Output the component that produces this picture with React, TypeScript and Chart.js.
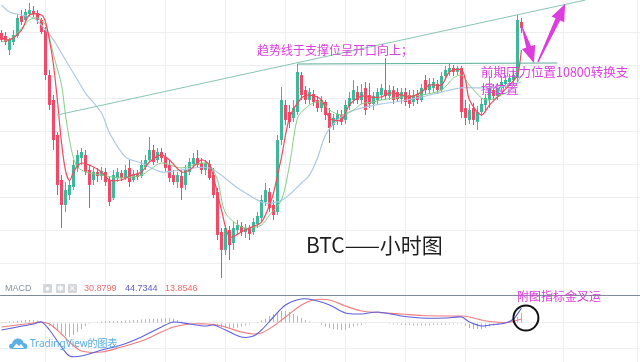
import React, { useEffect, useRef } from "react";
import { Chart, registerables } from "chart.js";

Chart.register(...registerables);

// ---------- candle data (hourly BTC) ----------
const openPrices = [
  10994, 10976, 10891, 10939, 10976, 11097, 11073, 11109, 11127, 11115,
  11073, 11012, 10739, 10588, 10376, 10103, 9952, 10012, 10061, 10176,
  10236, 10255, 10164, 10103, 10152, 10127, 10152, 10103, 9994, 10115,
  10145, 10115, 10176, 10103, 10139, 10127, 10182, 10224, 10285, 10224,
  10273, 10242, 10194, 10133, 10091, 10127, 10073, 10152, 10200, 10236,
  10206, 10164, 10200, 10133, 10030, 9788, 9679, 9800, 9721, 9800,
  9824, 9788, 9812, 9788, 9836, 9873, 9970, 10030, 9952, 9909,
  10345, 10558, 10515, 10479, 10515, 10739, 10648, 10588, 10624, 10588,
  10539, 10576, 10509, 10436, 10467, 10497, 10467, 10552, 10588, 10636,
  10588, 10661, 10618, 10564, 10588, 10618, 10648, 10612, 10648, 10636,
  10594, 10636, 10618, 10576, 10624, 10588, 10709, 10648, 10661, 10685,
  10648, 10733, 10758, 10782, 10758, 10782, 10539, 10467, 10539, 10455,
  10515, 10558, 10588, 10648, 10612, 10661, 10685, 10697, 10709, 10721,
  11061,
];
const highPrices = [
  11012, 11000, 10964, 11012, 11109, 11133, 11139, 11176, 11158, 11133,
  11085, 11030, 10770, 10618, 10394, 10133, 10091, 10103, 10224, 10285,
  10297, 10285, 10194, 10176, 10176, 10182, 10176, 10127, 10164, 10176,
  10164, 10194, 10224, 10164, 10164, 10224, 10255, 10364, 10315, 10297,
  10297, 10267, 10224, 10164, 10152, 10164, 10194, 10236, 10267, 10285,
  10236, 10224, 10224, 10176, 10055, 9812, 9830, 9824, 9848, 9861,
  9848, 9836, 9830, 9873, 9909, 10012, 10085, 10055, 9982, 10376,
  10667, 10588, 10558, 10588, 10806, 10758, 10673, 10661, 10648, 10612,
  10612, 10588, 10539, 10503, 10527, 10527, 10588, 10636, 10709, 10673,
  10685, 10697, 10691, 10636, 10661, 10685, 10842, 10679, 10673, 10661,
  10661, 10661, 10648, 10648, 10648, 10685, 10739, 10721, 10721, 10709,
  10758, 10794, 10812, 10800, 10794, 10794, 10588, 10564, 10570, 10552,
  10600, 10624, 10733, 10685, 10685, 10733, 10739, 10745, 10770, 11103,
  11085,
];
const lowPrices = [
  10939, 10921, 10861, 10921, 10964, 11042, 11061, 11097, 11091, 11048,
  10988, 10709, 10527, 10285, 10012, 9812, 9909, 9982, 10042, 10152,
  10194, 10133, 9933, 10073, 10091, 10103, 10067, 9945, 9982, 10091,
  10097, 10103, 10061, 10091, 10103, 10115, 10164, 10212, 10194, 10206,
  10212, 10152, 10091, 10073, 10055, 9982, 10042, 10133, 10176, 10176,
  10139, 10133, 10103, 9994, 9739, 9509, 9648, 9618, 9679, 9770,
  9764, 9752, 9739, 9770, 9812, 9848, 9945, 9909, 9861, 9891,
  10315, 10436, 10418, 10455, 10497, 10588, 10564, 10564, 10552, 10515,
  10515, 10467, 10327, 10406, 10436, 10436, 10442, 10527, 10564, 10564,
  10564, 10497, 10539, 10527, 10564, 10588, 10588, 10588, 10564, 10576,
  10564, 10552, 10539, 10552, 10564, 10576, 10618, 10624, 10636, 10624,
  10636, 10709, 10733, 10733, 10739, 10479, 10436, 10442, 10436, 10406,
  10491, 10527, 10539, 10588, 10588, 10636, 10661, 10673, 10685, 10697,
  10994,
];
const closePrices = [
  10952, 10939, 10952, 10982, 11085, 11061, 11121, 11133, 11109, 11073,
  11000, 10739, 10558, 10345, 10073, 9952, 10042, 10073, 10194, 10255,
  10273, 10152, 10073, 10152, 10127, 10158, 10091, 9970, 10133, 10152,
  10115, 10164, 10091, 10139, 10121, 10194, 10224, 10285, 10212, 10273,
  10236, 10176, 10115, 10091, 10133, 10055, 10164, 10212, 10236, 10194,
  10164, 10206, 10115, 10012, 9770, 9679, 9812, 9709, 9812, 9830,
  9788, 9812, 9776, 9848, 9885, 9982, 10042, 9933, 9891, 10345,
  10588, 10467, 10455, 10539, 10758, 10618, 10588, 10636, 10576, 10539,
  10588, 10497, 10418, 10479, 10503, 10455, 10558, 10600, 10648, 10588,
  10636, 10527, 10564, 10612, 10636, 10661, 10612, 10648, 10588, 10594,
  10636, 10576, 10564, 10618, 10588, 10661, 10648, 10685, 10697, 10648,
  10733, 10770, 10782, 10758, 10782, 10515, 10479, 10527, 10467, 10515,
  10564, 10600, 10661, 10612, 10661, 10697, 10709, 10721, 10739, 11073,
  11024,
];

// ---------- moving averages (candle index, price) ----------
const fastMaIdx = [0, 2, 5, 7, 10, 11, 12, 13, 14, 15, 16, 17, 18, 19, 20, 22, 25, 27, 30, 32, 35, 37, 40, 42, 45, 47, 50, 52, 53, 55, 57, 60, 62, 65, 67, 68, 70, 72, 75, 77, 80, 82, 85, 87, 90, 92, 95, 97, 100, 102, 105, 107, 110, 112, 115, 116, 117, 120, 122, 125, 127, 129, 130];
const fastMaVal = [10964, 10952, 11012, 11103, 11103, 11061, 10950, 10800, 10580, 10330, 10160, 10100, 10152, 10188, 10206, 10194, 10152, 10103, 10103, 10127, 10152, 10212, 10255, 10224, 10152, 10164, 10224, 10194, 10121, 9921, 9758, 9788, 9812, 9848, 9952, 10024, 10242, 10479, 10600, 10618, 10588, 10479, 10467, 10558, 10612, 10606, 10606, 10630, 10618, 10606, 10636, 10679, 10679, 10758, 10770, 10709, 10588, 10497, 10558, 10630, 10679, 10739, 10891];
const midMaIdx = [0, 3, 7, 9, 11, 13, 15, 16, 17, 18, 19, 21, 25, 30, 35, 37, 40, 45, 50, 52, 54, 56, 60, 62, 65, 67, 70, 72, 74, 76, 78, 80, 82, 85, 88, 90, 93, 95, 100, 105, 110, 113, 115, 117, 120, 122, 125, 128, 130];
const midMaVal = [10939, 10970, 11073, 11085, 11042, 10861, 10679, 10497, 10345, 10236, 10182, 10152, 10133, 10115, 10133, 10164, 10206, 10176, 10206, 10194, 10103, 9903, 9818, 9812, 9830, 9891, 9982, 10194, 10479, 10539, 10570, 10576, 10527, 10497, 10527, 10564, 10576, 10588, 10606, 10618, 10648, 10721, 10739, 10679, 10600, 10588, 10618, 10661, 10739];
const slowMaIdx = [0, 2, 5, 8, 10, 13, 16, 19, 21, 25, 27, 31, 35, 40, 45, 52, 59, 65, 68, 71, 75, 77, 79, 81, 84, 87, 91, 95, 100, 105, 110, 115, 120, 125, 130];
const slowMaVal = [11164, 11121, 11103, 11085, 11042, 10952, 10830, 10709, 10630, 10509, 10388, 10242, 10206, 10152, 10164, 10176, 10055, 9970, 9964, 9994, 10085, 10133, 10236, 10376, 10467, 10515, 10545, 10564, 10582, 10606, 10636, 10661, 10661, 10667, 10697];

// ---------- drawing-tool lines (candle index, price) ----------
const trendIdx = [13.9, 146];
const trendVal = [10497, 11194];
const levelIdx = [74, 139];
const levelVal = [10806, 10812];
const arrowTailIdx = [130.4, 134.1];
const arrowTailVal = [11012, 10818];
const arrowTipIdx = [133.1, 140.9];
const arrowTipVal = [10812, 11170];

// ---------- MACD pane ----------
const macdIdx = [0, 4, 8, 10, 12, 15, 17, 20, 25, 30, 35, 40, 43, 47, 51, 53, 56, 60, 63, 65, 68, 71, 75, 78, 82, 86, 90, 94, 100, 105, 111, 115, 117, 120, 122, 126, 128, 130];
const macdVal = [-14, -8, -2, 2, -14, -48, -66, -66, -54, -44, -28, -8, 2, -2, -6, -4, -14, -28, -26, -14, 12, 36, 48, 46, 36, 20, 18, 22, 14, 10, 10, 12, 2, -6, -4, 0, 8, 30];
const signalVal = [-8, -4, 0, 2, -2, -22, -38, -56, -58, -48, -36, -18, -8, -2, -2, -3, -8, -18, -22, -20, -6, 12, 36, 46, 46, 34, 24, 21, 18, 15, 14, 14, 12, 6, 3, 1, 3, 8];
const histVal = [
  2, 2, 3, 3, 4, 5, 6, 6, 6, 5,
  3, -2, -6, -10, -14, -20, -26, -28, -24, -18, -12, -6, -2,
  1, 2, 3, 4, 4, 4, 4, 4, 5, 5, 6, 6, 7, 7, 8, 8, 9, 9, 10, 10,
  9, 6, 3, 1, 0, -1, 1, -1, -2, -1,
  -2, -5, -8, -10, -10, -10, -9, -7, -5,
  -3, -1, 2, 5, 9,
  14, 18, 22, 24, 24, 22, 18, 14,
  10, 6, 3, 1, -1,
  -4, -7, -10, -12, -13, -14, -13, -10, -7,
  -5, -4, -2, -1, 0, 1, 0, -1, -2, -3, -3, -4, -4, -4, -5, -5,
  -5, -5, -5, -4, -4, -4, -4, -3, -3, -2,
  -2, -6, -10, -12, -12, -12, -10, -7,
  -5, -3, -1, 0, 2,
  5, 12, 20,
];
const circleIdx = 131.1;
const circleVal = 10;

const priceTicks = [9600, 9800, 10000, 10200, 10400, 10600, 10800, 11000];
const timeGrid = [11, 26, 41, 56, 71, 86, 101, 116, 140.4, 158.9];
const macdTicks = [-50, 0];

const X_MIN = -0.375;
const X_MAX = 159.625;
const P_MIN = 9400;
const P_MAX = 11193.94;
const M_MIN = -78;
const M_MAX = 54;

const UP = "#3fb79a";
const DOWN = "#f04a68";
const GRID = "#eceef1";
const MAGENTA = "#dc3ddc";

const pts = (xs: number[], ys: number[]) => xs.map((x, i) => ({ x, y: ys[i] }));

const lineDs = (label: string, data: any[], color: string, width = 1, tension = 0.3) => ({
  type: "line" as const,
  label,
  data,
  borderColor: color,
  borderWidth: width,
  pointRadius: 0,
  tension,
  fill: false,
});

const xScale = (showGrid: boolean) => ({
  type: "linear" as const,
  min: X_MIN,
  max: X_MAX,
  offset: false,
  afterBuildTicks: (s: any) => {
    s.ticks = timeGrid.map((v) => ({ value: v }));
  },
  afterFit: (s: any) => {
    s.height = 0;
  },
  ticks: { display: false },
  grid: { display: showGrid, color: GRID, drawTicks: false, offset: false },
  border: { display: false },
});

const arrowPlugin = {
  id: "arrows",
  afterDatasetsDraw(chart: any) {
    const { ctx, scales } = chart;
    ctx.save();
    ctx.fillStyle = MAGENTA;
    ctx.strokeStyle = MAGENTA;
    ctx.lineCap = "round";
    for (let i = 0; i < arrowTailIdx.length; i++) {
      const x1 = scales.x.getPixelForValue(arrowTailIdx[i]);
      const y1 = scales.y.getPixelForValue(arrowTailVal[i]);
      const x2 = scales.x.getPixelForValue(arrowTipIdx[i]);
      const y2 = scales.y.getPixelForValue(arrowTipVal[i]);
      const a = Math.atan2(y2 - y1, x2 - x1);
      const c = Math.cos(a);
      const s = Math.sin(a);
      const hl = 17;
      const hw = 7;
      const bx = x2 - hl * c;
      const by = y2 - hl * s;
      ctx.beginPath();
      ctx.moveTo(x1, y1);
      ctx.lineTo(bx + 1.8 * s, by - 1.8 * c);
      ctx.lineTo(bx - 1.8 * s, by + 1.8 * c);
      ctx.closePath();
      ctx.lineWidth = 1.5;
      ctx.fill();
      ctx.stroke();
      ctx.beginPath();
      ctx.moveTo(x2, y2);
      ctx.lineTo(bx + hw * s, by - hw * c);
      ctx.lineTo(bx - hw * s, by + hw * c);
      ctx.closePath();
      ctx.fill();
    }
    ctx.restore();
  },
};

const circlePlugin = {
  id: "circleMark",
  afterDatasetsDraw(chart: any) {
    const { ctx, scales } = chart;
    const cx = scales.x.getPixelForValue(circleIdx);
    const cy = scales.y.getPixelForValue(circleVal);
    ctx.save();
    ctx.strokeStyle = "#111";
    ctx.lineWidth = 2;
    ctx.beginPath();
    ctx.arc(cx, cy, 12.5, 0, Math.PI * 2);
    ctx.stroke();
    ctx.restore();
  },
};

function MainChart() {
  const ref = useRef<HTMLCanvasElement>(null);
  useEffect(() => {
    const idx = closePrices.map((_, i) => i);
    const colors = idx.map((i) => (closePrices[i] >= openPrices[i] ? UP : DOWN));
    const chart = new Chart(ref.current as HTMLCanvasElement, {
      type: "bar",
      data: {
        datasets: [
          lineDs("trend", pts(trendIdx, trendVal), "#86c6b4", 1, 0) as any,
          lineDs("level", pts(levelIdx, levelVal), "#5aae98", 1.2, 0) as any,
          lineDs("MA fast", pts(fastMaIdx, fastMaVal), "#ee4b5c", 1.2) as any,
          lineDs("MA mid", pts(midMaIdx, midMaVal), "#86cc86", 1) as any,
          lineDs("MA slow", pts(slowMaIdx, slowMaVal), "#adc8e6", 1.2) as any,
          {
            type: "bar",
            label: "body",
            data: idx.map((i) => ({ x: i, y: [openPrices[i], closePrices[i]] })) as any,
            backgroundColor: colors,
            grouped: false,
            categoryPercentage: 1,
            barPercentage: 0.78,
            borderWidth: 0,
            borderSkipped: false,
          } as any,
          {
            type: "bar",
            label: "wick",
            data: idx.map((i) => ({ x: i, y: [lowPrices[i], highPrices[i]] })) as any,
            backgroundColor: colors,
            grouped: false,
            maxBarThickness: 1,
            borderWidth: 0,
            borderSkipped: false,
          } as any,
        ],
      },
      options: {
        animation: false,
        responsive: false,
        maintainAspectRatio: false,
        layout: { padding: 0 },
        plugins: { legend: { display: false }, tooltip: { enabled: false } },
        scales: {
          x: xScale(true) as any,
          y: {
            type: "linear",
            min: P_MIN,
            max: P_MAX,
            afterBuildTicks: (s: any) => {
              s.ticks = priceTicks.map((v) => ({ value: v }));
            },
            afterFit: (s: any) => {
              s.width = 0;
            },
            ticks: { display: false },
            grid: { color: GRID, drawTicks: false },
            border: { display: false },
          },
        },
      },
      plugins: [arrowPlugin],
    });
    return () => chart.destroy();
  }, []);
  return (
    <canvas
      ref={ref}
      width={640}
      height={296}
      style={{ position: "absolute", left: 0, top: 0, width: 640, height: 296 }}
    />
  );
}

function MacdChart() {
  const ref = useRef<HTMLCanvasElement>(null);
  useEffect(() => {
    const chart = new Chart(ref.current as HTMLCanvasElement, {
      type: "bar",
      data: {
        datasets: [
          lineDs("MACD", pts(macdIdx, macdVal), "#5c5fdc", 1.1, 0.3) as any,
          lineDs("Signal", pts(macdIdx, signalVal), "#f07b7d", 1.1, 0.3) as any,
          {
            type: "bar",
            label: "Histogram",
            data: histVal.map((v, i) => ({ x: i, y: v })) as any,
            backgroundColor: "#f39aa4",
            grouped: false,
            maxBarThickness: 1,
            borderWidth: 0,
          } as any,
        ],
      },
      options: {
        animation: false,
        responsive: false,
        maintainAspectRatio: false,
        layout: { padding: 0 },
        plugins: { legend: { display: false }, tooltip: { enabled: false } },
        scales: {
          x: xScale(true) as any,
          y: {
            type: "linear",
            min: M_MIN,
            max: M_MAX,
            afterBuildTicks: (s: any) => {
              s.ticks = macdTicks.map((v) => ({ value: v }));
            },
            afterFit: (s: any) => {
              s.width = 0;
            },
            ticks: { display: false },
            grid: { color: GRID, drawTicks: false },
            border: { display: false },
          },
        },
      },
      plugins: [circlePlugin],
    });
    return () => chart.destroy();
  }, []);
  return (
    <canvas
      ref={ref}
      width={640}
      height={66}
      style={{ position: "absolute", left: 0, top: 296, width: 640, height: 66 }}
    />
  );
}

const CJK = '"Noto Sans CJK SC", "Noto Sans", sans-serif';

const txt = (left: number, top: number, size: number, color: string, family = CJK): React.CSSProperties => ({
  position: "absolute",
  left,
  top,
  fontSize: size,
  lineHeight: 1,
  color,
  whiteSpace: "nowrap",
  fontFamily: family,
});

const iconBox = (left: number): React.CSSProperties => ({
  position: "absolute",
  left,
  top: 284,
  width: 9,
  height: 9,
  background: "#d3d7dc",
  borderRadius: 1,
  color: "#fff",
  fontSize: 8,
  lineHeight: "9px",
  textAlign: "center",
  fontFamily: "Liberation Sans, sans-serif",
});

export default function App() {
  return (
    <div
      style={{
        position: "fixed",
        left: 0,
        top: 0,
        width: 640,
        height: 362,
        background: "#ffffff",
        overflow: "hidden",
      }}
    >
      <MainChart />
      <div style={{ position: "absolute", left: 0, top: 295, width: 640, height: 1, background: "#7f8b97" }} />
      <MacdChart />

      <div style={txt(257, 44, 12, MAGENTA)}>趋势线于支撑位呈开口向上；</div>
      <div style={txt(481, 66, 12.5, MAGENTA)}>前期压力位置10800转换支</div>
      <div style={txt(481, 83, 12.5, MAGENTA)}>撑位置</div>
      <div style={txt(306, 234, 21, "#1e1e1e")}>BTC——小时图</div>
      <div style={txt(517, 290, 12, MAGENTA)}>附图指标金叉运</div>

      <div style={txt(5, 284, 9, "#8793a0", "Liberation Sans, Arial, sans-serif")}>MACD</div>
      <div style={iconBox(43)}>●</div>
      <div style={iconBox(56)}>✱</div>
      <div style={iconBox(68)}>✕</div>
      <div style={txt(84, 284, 9, "#ef6b6b", "Liberation Sans, Arial, sans-serif")}>30.8799</div>
      <div style={txt(125, 284, 9, "#5a5acb", "Liberation Sans, Arial, sans-serif")}>44.7344</div>
      <div style={txt(165, 284, 9, "#ef6b6b", "Liberation Sans, Arial, sans-serif")}>13.8546</div>

      <svg
        width={20}
        height={13}
        viewBox="0 0 20 13"
        style={{ position: "absolute", left: 8, top: 337 }}
      >
        <path
          d="M4 12 C1.5 12 0.5 10 1.2 8.3 C1.8 7 3 6.6 4 6.8 C4.6 3.6 7 1.5 10 1.5 C13 1.5 15.2 3.5 15.6 6 C17.8 6 19.5 7.6 19.5 9.6 C19.5 11 18.5 12 17 12 Z"
          fill="#5cb0e4"
        />
        <path d="M5 11 L8.5 6.5 L11 9 L13 7 L16 11 Z" fill="#ffffff" />
      </svg>
      <div style={txt(30, 338, 10, "#5aaee2", '"Noto Sans", "Noto Sans CJK SC", sans-serif')}>TradingView的图表</div>
    </div>
  );
}
